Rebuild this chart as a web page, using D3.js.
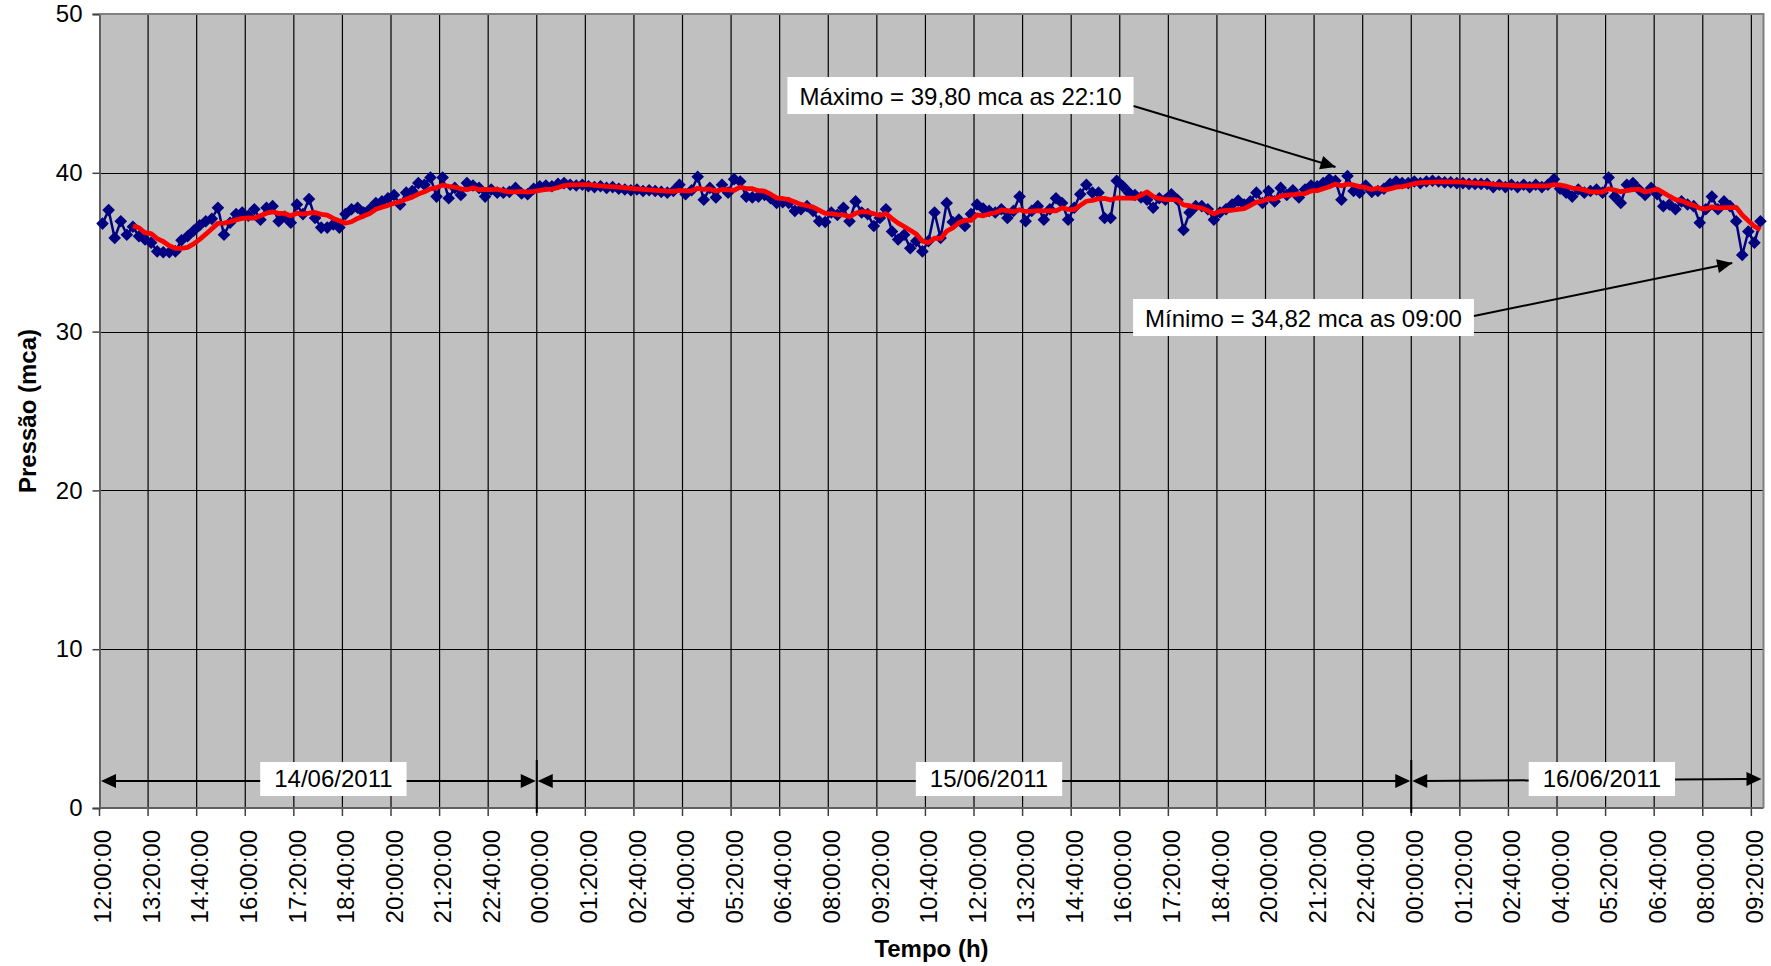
<!DOCTYPE html>
<html>
<head>
<meta charset="utf-8">
<script src="https://cdn.jsdelivr.net/npm/d3@7"></script>
<style>
  body { margin: 0; background: #fff; }
  svg { display: block; }
  text { font-family: "Liberation Sans", Arial, sans-serif; fill: #000; }
</style>
</head>
<body>
<svg id="chart" width="1771" height="966"></svg>
<script>
// Pressure readings every 10 minutes, starting 14/06/2011 12:00
const startTime = new Date(2011, 5, 14, 12, 0, 0);
const stepMinutes = 10;

const pressure = [
  36.8, 37.65, 35.9, 36.95, 36.1, 36.6, 36.0, 35.8, 35.6, 35.05,
  35.0, 35.0, 35.05, 35.75, 36.0, 36.35, 36.7, 36.95, 37.1, 37.8,
  36.1, 36.85, 37.4, 37.5, 37.3, 37.7, 37.05, 37.8, 37.9, 36.95,
  37.25, 36.85, 38.0, 37.4, 38.35, 37.15, 36.55, 36.55, 36.75, 36.55,
  37.4, 37.7, 37.8, 37.5, 37.7, 38.1, 38.2, 38.4, 38.6, 38.0,
  38.75, 38.85, 39.35, 39.25, 39.7, 38.5, 39.7, 38.4, 39.05, 38.6,
  39.35, 39.2, 39.05, 38.5, 38.95, 38.75, 38.75, 38.8, 39.05, 38.7,
  38.65, 39.0, 39.15, 39.2, 39.15, 39.3, 39.35, 39.25, 39.2, 39.25,
  39.15, 39.1, 39.15, 39.05, 39.1, 39.0, 38.95, 38.9, 38.95, 38.85,
  38.9, 38.85, 38.8, 38.75, 38.85, 39.25, 38.65, 38.9, 39.75, 38.3,
  39.05, 38.45, 39.25, 38.75, 39.6, 39.45, 38.5, 38.45, 38.5, 38.6,
  38.4, 38.1, 38.15, 38.1, 37.6, 37.7, 37.9, 37.6, 36.95, 36.9,
  37.5, 37.35, 37.8, 36.95, 38.2, 37.5, 37.4, 36.65, 37.15, 37.7,
  36.3, 35.8, 36.1, 35.25, 35.7, 35.05, 35.7, 37.5, 35.9, 38.1,
  36.9, 37.05, 36.65, 37.4, 38.0, 37.75, 37.6, 37.5, 37.7, 37.15,
  37.6, 38.5, 36.95, 37.6, 37.9, 37.05, 37.7, 38.4, 38.1, 37.05,
  37.8, 38.65, 39.25, 38.75, 38.75, 37.15, 37.15, 39.5, 39.15, 38.75,
  38.6, 38.45, 38.3, 37.8, 38.4, 38.3, 38.65, 38.3, 36.4, 37.5,
  37.9, 37.9, 37.7, 37.05, 37.5, 37.7, 38.0, 38.25, 38.0, 38.2,
  38.75, 38.1, 38.85, 38.2, 39.05, 38.6, 38.9, 38.45, 38.95, 39.2,
  39.15, 39.35, 39.6, 39.5, 38.3, 39.8, 38.85, 38.75, 39.2, 38.8,
  38.85, 39.0, 39.3, 39.45, 39.35, 39.35, 39.45, 39.35, 39.45, 39.5,
  39.45, 39.4, 39.4, 39.35, 39.35, 39.3, 39.3, 39.3, 39.3, 39.1,
  39.25, 39.1, 39.25, 39.1, 39.25, 39.1, 39.25, 39.1, 39.25, 39.6,
  39.0, 38.75, 38.5, 38.95, 38.75, 38.85, 38.95, 38.75, 39.7, 38.5,
  38.1, 39.25, 39.35, 38.95, 38.6, 39.05, 38.65, 37.9, 38.0, 37.7,
  38.2, 38.0, 37.9, 36.85, 37.7, 38.5, 37.7, 38.2, 37.9, 36.95,
  34.82, 36.3, 35.6, 36.95
];

const categories = pressure.map((_, i) => d3.timeMinute.offset(startTime, i * stepMinutes));

const tickEvery = 8;
const tickLabels = [
  "12:00:00", "13:20:00", "14:40:00", "16:00:00", "17:20:00", "18:40:00", "20:00:00", "21:20:00", "22:40:00",
  "00:00:00", "01:20:00", "02:40:00", "04:00:00", "05:20:00", "06:40:00", "08:00:00", "09:20:00", "10:40:00",
  "12:00:00", "13:20:00", "14:40:00", "16:00:00", "17:20:00", "18:40:00", "20:00:00", "21:20:00", "22:40:00",
  "00:00:00", "01:20:00", "02:40:00", "04:00:00", "05:20:00", "06:40:00", "08:00:00", "09:20:00"
];
const yTicks = [0, 10, 20, 30, 40, 50];
const dayLabels = ["14/06/2011", "15/06/2011", "16/06/2011"];
const movingAveragePeriod = 6;

const maxIndex = 205;
const minIndex = 270;
const maxText = "Máximo = 39,80 mca as 22:10";
const minText = "Mínimo = 34,82 mca as 09:00";

const yTitle = "Pressão (mca)";
const xTitle = "Tempo (h)";

// ---------------------------------------------------------------
const svg = d3.select("#chart");
const plot = { left: 99.5, right: 1763.5, top: 14, bottom: 808 };

const idx = d3.range(pressure.length);
const x = d3.scaleBand().domain(idx).range([plot.left, plot.right]).padding(0);
const y = d3.scaleLinear().domain([0, 50]).range([plot.bottom, plot.top]);
const cx = i => x(i) + x.bandwidth() / 2;
const tickIdx = idx.filter(i => i % tickEvery === 0);

// plot background
svg.append("rect")
  .attr("x", plot.left).attr("y", plot.top)
  .attr("width", plot.right - plot.left).attr("height", plot.bottom - plot.top)
  .attr("fill", "#c0c0c0");

// gridlines
const grid = svg.append("g");
grid.selectAll("line.h").data(yTicks.filter(v => v > 0 && v < 50)).join("line")
  .attr("x1", plot.left).attr("x2", plot.right)
  .attr("y1", d => Math.round(y(d)) + 0.5).attr("y2", d => Math.round(y(d)) + 0.5)
  .attr("stroke", "#000").attr("stroke-width", 1);
grid.selectAll("line.v").data(tickIdx.filter(i => i > 0)).join("line")
  .attr("x1", d => x(d)).attr("x2", d => x(d))
  .attr("y1", plot.top).attr("y2", plot.bottom)
  .attr("stroke", "#000").attr("stroke-width", 1.2);

// y axis
const yAxis = svg.append("g")
  .attr("transform", `translate(${plot.left},0)`)
  .call(d3.axisLeft(y).tickValues(yTicks).tickSize(7).tickPadding(10).tickFormat(d3.format("d")));
yAxis.select(".domain").attr("stroke", "#606060").attr("stroke-width", 2);
yAxis.selectAll(".tick line").attr("stroke", "#404040").attr("stroke-width", 1.5);
yAxis.selectAll(".tick text")
  .style("font-family", '"Liberation Sans", Arial, sans-serif')
  .style("font-size", "24px").attr("fill", "#000");

// x axis (labels centred on categories, tick marks on category boundaries)
const xAxis = svg.append("g")
  .attr("transform", `translate(0,${plot.bottom})`)
  .call(d3.axisBottom(x).tickValues(tickIdx).tickSize(0)
    .tickFormat((d, k) => tickLabels[k]));
xAxis.select(".domain").remove();
xAxis.selectAll(".tick text")
  .style("font-family", '"Liberation Sans", Arial, sans-serif')
  .style("font-size", "24px").attr("fill", "#000")
  .attr("transform", "rotate(-90)")
  .attr("text-anchor", "end")
  .attr("x", -22).attr("y", 0).attr("dy", "0.36em");
svg.append("g").selectAll("line").data(tickIdx).join("line")
  .attr("x1", d => x(d)).attr("x2", d => x(d))
  .attr("y1", plot.bottom).attr("y2", plot.bottom + 8)
  .attr("stroke", "#404040").attr("stroke-width", 1.5);

// plot border
svg.append("line").attr("x1", plot.left).attr("x2", plot.right)
  .attr("y1", plot.bottom).attr("y2", plot.bottom)
  .attr("stroke", "#606060").attr("stroke-width", 2);
svg.append("path")
  .attr("d", `M${plot.left},${plot.top}H${plot.right}V${plot.bottom}`)
  .attr("fill", "none").attr("stroke", "#808080").attr("stroke-width", 2);

// pressure series
const line = d3.line().x(d => cx(d.i)).y(d => y(d.v));
const series = idx.map(i => ({ i, v: pressure[i] }));
svg.append("path").datum(series)
  .attr("d", line).attr("fill", "none")
  .attr("stroke", "#000080").attr("stroke-width", 2.5);

const r = 6.3;
svg.append("g").selectAll("path").data(series).join("path")
  .attr("d", d => `M${cx(d.i)},${y(d.v) - r}l${r},${r}l${-r},${r}l${-r},${-r}Z`)
  .attr("fill", "#000080");

// moving average trendline
const trend = idx.filter(i => i >= movingAveragePeriod - 1)
  .map(i => ({ i, v: d3.mean(pressure.slice(i - movingAveragePeriod + 1, i + 1)) }));
svg.append("path").datum(trend)
  .attr("d", line).attr("fill", "none")
  .attr("stroke", "#ff0000").attr("stroke-width", 4.8)
  .attr("stroke-linejoin", "round");

// ---------------------------------------------------------------
// annotation helpers
function arrowHead(g, tx, ty, fx, fy, len = 15, half = 7) {
  const a = Math.atan2(ty - fy, tx - fx);
  const bx = tx - len * Math.cos(a), by = ty - len * Math.sin(a);
  const px = -Math.sin(a) * half, py = Math.cos(a) * half;
  g.append("path")
    .attr("d", `M${tx},${ty}L${bx + px},${by + py}L${bx - px},${by - py}Z`)
    .attr("fill", "#000");
}
function labelBox(g, text, centerX, baselineY, padX, top, height) {
  const t = g.append("text")
    .attr("x", centerX).attr("y", baselineY)
    .attr("text-anchor", "middle")
    .style("font-size", "24px").text(text);
  const w = t.node().getComputedTextLength() + 2 * padX;
  g.insert("rect", "text")
    .attr("x", centerX - w / 2).attr("y", top)
    .attr("width", w).attr("height", height)
    .attr("fill", "#fff");
  return w;
}

const notes = svg.append("g");

// day spans
const dayStarts = idx.filter(i => categories[i].getHours() === 0 && categories[i].getMinutes() === 0);
const bounds = [plot.left + 0.5, ...dayStarts.map(i => x(i)), plot.right - 1];
const arrowY = 781;
dayStarts.forEach(i => {
  notes.append("line").attr("x1", x(i)).attr("x2", x(i))
    .attr("y1", 760).attr("y2", 813).attr("stroke", "#000").attr("stroke-width", 2);
});
dayLabels.forEach((lab, k) => {
  const x0 = bounds[k], x1 = bounds[k + 1];
  const yEnd = k === dayLabels.length - 1 ? arrowY - 2 : arrowY;
  notes.append("line").attr("x1", x0 + 12).attr("x2", x1 - 12)
    .attr("y1", arrowY).attr("y2", yEnd)
    .attr("stroke", "#000").attr("stroke-width", 2);
  arrowHead(notes, x0 + 1, arrowY, x1, arrowY);
  arrowHead(notes, x1 - 1, yEnd, x0, arrowY);
  const g = notes.append("g");
  labelBox(g, lab, (x0 + x1) / 2 + 15, 787, 14, 762, 34);
});

// maximum / minimum call-outs
const maxTip = [cx(maxIndex) - 12, y(pressure[maxIndex]) - 9];
const minTip = [cx(minIndex) - 10, y(pressure[minIndex]) + 8];

const gMax = notes.append("g");
const wMax = labelBox(gMax, maxText, 960.5, 104.5, 12, 77, 37);
const maxFrom = [960.5 + wMax / 2, 106];
notes.append("line").attr("x1", maxFrom[0]).attr("y1", maxFrom[1])
  .attr("x2", maxTip[0]).attr("y2", maxTip[1])
  .attr("stroke", "#000").attr("stroke-width", 2);
arrowHead(notes, maxTip[0], maxTip[1], maxFrom[0], maxFrom[1]);

const gMin = notes.append("g");
const wMin = labelBox(gMin, minText, 1303.5, 327, 12, 299, 37);
const minFrom = [1303.5 + wMin / 2, 316];
notes.append("line").attr("x1", minFrom[0]).attr("y1", minFrom[1])
  .attr("x2", minTip[0]).attr("y2", minTip[1])
  .attr("stroke", "#000").attr("stroke-width", 2);
arrowHead(notes, minTip[0], minTip[1], minFrom[0], minFrom[1]);

// axis titles
svg.append("text")
  .attr("x", (plot.left + plot.right) / 2).attr("y", 957)
  .attr("text-anchor", "middle")
  .style("font-size", "24px").style("font-weight", "bold")
  .text(xTitle);
svg.append("text")
  .attr("transform", `translate(36,${(plot.top + plot.bottom) / 2}) rotate(-90)`)
  .attr("text-anchor", "middle")
  .style("font-size", "24px").style("font-weight", "bold")
  .text(yTitle);
</script>
</body>
</html>
